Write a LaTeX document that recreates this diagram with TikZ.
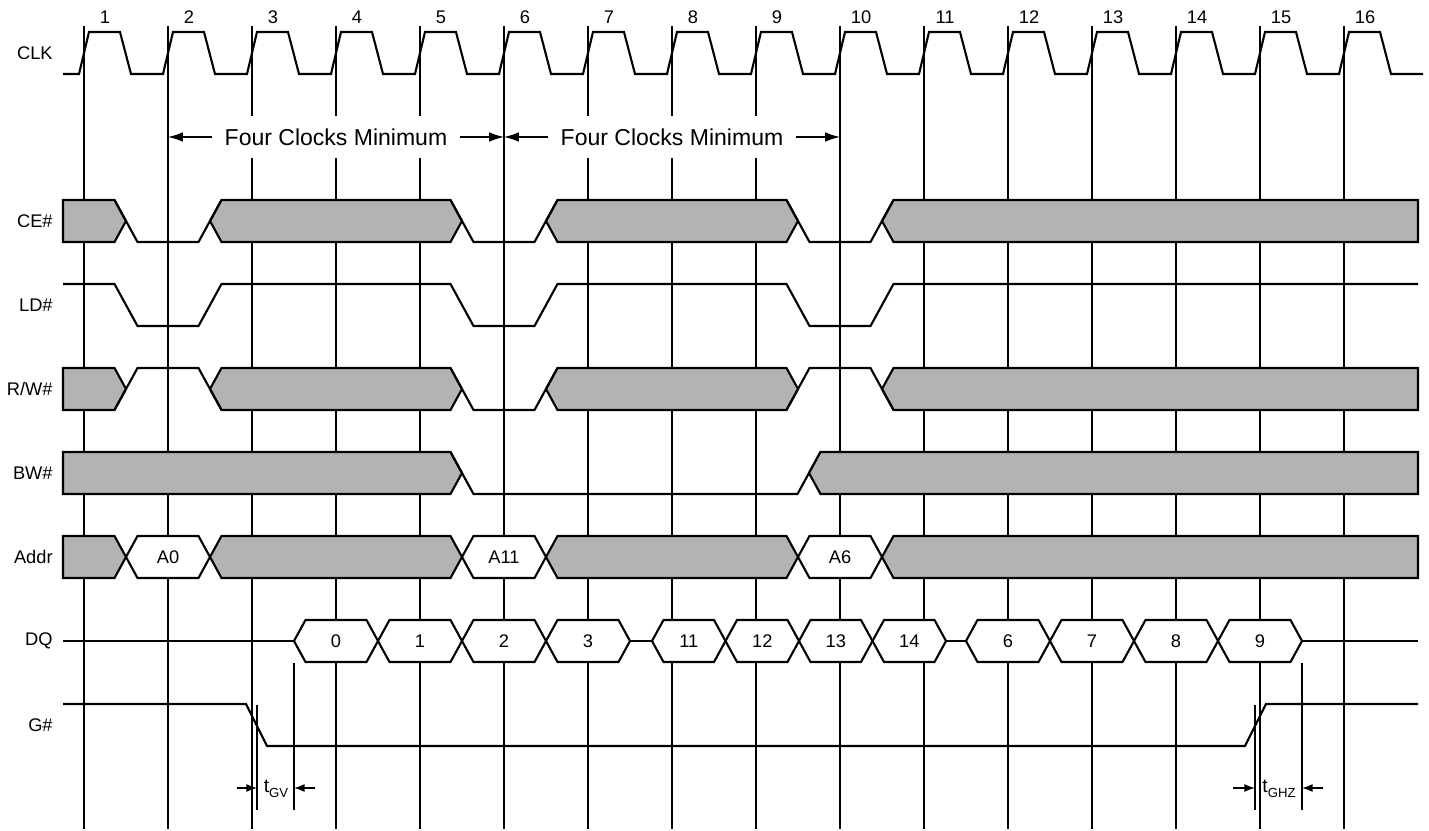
\documentclass[tikz,border=0pt]{standalone}
\usepackage{fontspec}
\setmainfont{Liberation Sans}
\usetikzlibrary{arrows.meta}
\definecolor{busgray}{RGB}{179,179,179}
\begin{document}
\begin{tikzpicture}[x=0.02cm,y=-0.02cm,
        sig/.style={line width=1.2pt},
        gridline/.style={line width=0.8pt},
        bus/.style={sig,fill=busgray},
        val/.style={sig,fill=white},
        lbl/.style={font=\fontsize{10.4}{12}\selectfont,inner sep=0pt},
        spanarrow/.style={gridline,-{Latex[length=8.5pt,width=5.5pt]}},
        tarrow/.style={gridline,-{Latex[length=6pt,width=4.5pt]}}]
    \useasboundingbox (0,0) rectangle (1429,831);
    \foreach \k in {1,...,16} {
        \coordinate (l\k) at ({84*\k},26);
        \draw[gridline] (l\k) -- ++(0,803);
        \node[lbl] (n\k) at ({84*\k+21},17) {\k};
    }
    \node[lbl,anchor=east] (clk) at (53,53) {CLK};
    \node[lbl,anchor=east] (ce) at (53,221) {CE\#};
    \node[lbl,anchor=east] (ld) at (53,305) {LD\#};
    \node[lbl,anchor=east] (rw) at (53,389) {R/W\#};
    \node[lbl,anchor=east] (bw) at (53,473) {BW\#};
    \node[lbl,anchor=east] (addr) at (53,557) {Addr};
    \node[lbl,anchor=east] (dq) at (53,641) {DQ};
    \node[lbl,anchor=east] (g) at (53,725) {G\#};
    \draw[sig] (63,74) \foreach \k in {1,...,16} { -- ({84*\k-5},74) -- ({84*\k+5},32) -- ({84*\k+36},32) -- ({84*\k+47},74) } -- (1423,74);
    \node[font=\fontsize{13.1}{15}\selectfont,fill=white,inner xsep=6.8pt,inner ysep=0pt,minimum height=24.4pt] (fc1) at (336,137) {Four Clocks Minimum};
    \node[font=\fontsize{13.1}{15}\selectfont,fill=white,inner xsep=6.8pt,inner ysep=0pt,minimum height=24.4pt] (fc2) at (672,137) {Four Clocks Minimum};
    \draw[spanarrow] (fc1.west) -- (fc1.west -| l2);
    \draw[spanarrow] (fc1.east) -- (fc1.east -| l6);
    \draw[spanarrow] (fc2.west) -- (fc2.west -| l6);
    \draw[spanarrow] (fc2.east) -- (fc2.east -| l10);
    \foreach \t in {200,368,536} {
        \draw[bus] (63,\t) -- (114.5,\t) -- (126,{\t+21}) -- (114.5,{\t+42}) -- (63,{\t+42}) -- cycle;
        \foreach \a/\b in {210/462,546/798}
            \draw[bus] (\a,{\t+21}) -- ({\a+11.5},\t) -- ({\b-11.5},\t) -- (\b,{\t+21}) -- ({\b-11.5},{\t+42}) -- ({\a+11.5},{\t+42}) -- cycle;
        \draw[bus] (882,{\t+21}) -- (893.5,\t) -- (1418,\t) -- (1418,{\t+42}) -- (893.5,{\t+42}) -- cycle;
    }
    \foreach \c in {126,462,798}
        \draw[sig] ({\c-11.5},200) -- ({\c+11.5},242) -- ({\c+72.5},242) -- ({\c+95.5},200);
    \draw[sig] (63,284) \foreach \c in {126,462,798} { -- ({\c-11.5},284) -- ({\c+11.5},326) -- ({\c+72.5},326) -- ({\c+95.5},284) } -- (1418,284);
    \draw[sig] (114.5,410) -- (137.5,368) -- (198.5,368) -- (221.5,410);
    \draw[sig] (450.5,368) -- (473.5,410) -- (534.5,410) -- (557.5,368);
    \draw[sig] (786.5,410) -- (809.5,368) -- (870.5,368) -- (893.5,410);
    \draw[bus] (63,452) -- (450.5,452) -- (462,473) -- (450.5,494) -- (63,494) -- cycle;
    \draw[sig] (450.5,452) -- (473.5,494) -- (797.5,494) -- (820.5,452);
    \draw[bus] (809,473) -- (820.5,452) -- (1418,452) -- (1418,494) -- (820.5,494) -- cycle;
    \foreach \a/\b/\v in {126/210/A0,462/546/A11,798/882/A6} {
        \draw[val] (\a,557) -- ({\a+11.5},536) -- ({\b-11.5},536) -- (\b,557) -- ({\b-11.5},578) -- ({\a+11.5},578) -- cycle;
        \node[lbl] (a\v) at ({(\a+\b)/2},557) {\v};
    }
    \draw[sig] (63,641) -- (294,641) (630,641) -- (652,641) (946,641) -- (966,641) (1302,641) -- (1418,641);
    \foreach \a/\b/\v in {294/378/0,378/462/1,462/546/2,546/630/3,652/725.5/11,725.5/799/12,799/872.5/13,872.5/946/14,966/1050/6,1050/1134/7,1134/1218/8,1218/1302/9} {
        \draw[val] (\a,641) -- ({\a+11.5},620) -- ({\b-11.5},620) -- (\b,641) -- ({\b-11.5},662) -- ({\a+11.5},662) -- cycle;
        \node[lbl] (dq\v) at ({(\a+\b)/2},641) {\v};
    }
    \draw[sig] (63,704) -- (246,704) -- (267,746) -- (1245,746) -- (1266,704) -- (1418,704);
    \coordinate (gv1) at (257,705);
    \coordinate (gv2) at (294,663);
    \coordinate (ghz1) at (1255,705);
    \coordinate (ghz2) at (1302,663);
    \draw[gridline] (gv1) -- (257,810) (gv2) -- (294,810);
    \draw[gridline] (ghz1) -- (1255,810) (ghz2) -- (1302,810);
    \node[lbl,font=\fontsize{11}{12}\selectfont] (tgv) at (276,789) {t\raisebox{-.5ex}{\fontsize{7.5}{8}\selectfont GV}};
    \node[lbl,font=\fontsize{11}{12}\selectfont] (tghz) at (1279,789) {t\raisebox{-.5ex}{\fontsize{7.5}{8}\selectfont GHZ}};
    \coordinate (gva) at (237,788);
    \coordinate (gvb) at (315,788);
    \coordinate (ghza) at (1233,788);
    \coordinate (ghzb) at (1323,788);
    \draw[tarrow] (gva) -- (gv1 |- gva);
    \draw[tarrow] (gvb) -- (gv2 |- gvb);
    \draw[tarrow] (ghza) -- (ghz1 |- ghza);
    \draw[tarrow] (ghzb) -- (ghz2 |- ghzb);
\end{tikzpicture}
\end{document}
